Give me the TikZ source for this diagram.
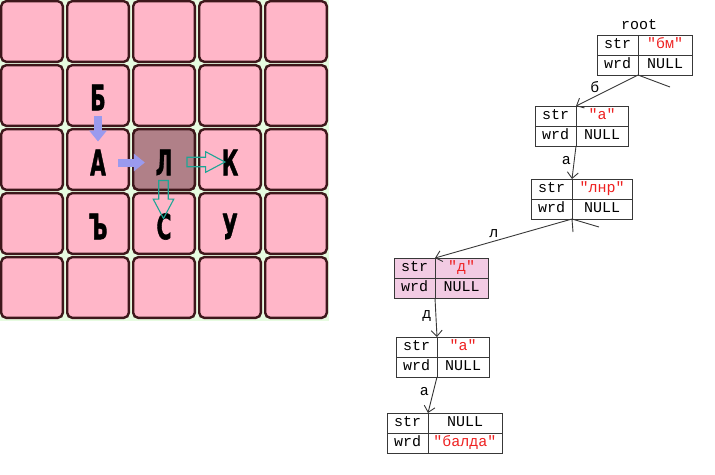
\documentclass[tikz,border=0pt]{standalone}
\usepackage{fontspec}
\usetikzlibrary{positioning,arrows.meta,shapes.arrows}
\newfontfamily\triefont{Liberation Mono}
\newfontface\letterfont{DejaVu Sans Bold}[FakeBold=1.6]
\definecolor{cellpink}{HTML}{FFB6C8}
\definecolor{cellhot}{HTML}{B08088}
\definecolor{cellline}{HTML}{3E171B}
\definecolor{gridbg}{HTML}{E6FBE0}
\definecolor{pushblue}{HTML}{9A9AEE}
\definecolor{hollowteal}{HTML}{1FA595}
\definecolor{valred}{HTML}{EE2020}
\definecolor{triepink}{HTML}{F2CBE3}
\definecolor{linkgray}{HTML}{383838}
\newcommand{\gridletter}[1]{\scalebox{0.58}[1]{#1}}
\newcommand{\quoted}[1]{\textcolor{valred}{"#1"}}
% one trie node: name, top left corner, value width, str, wrd, fill
\newcommand{\trienode}[6]{%
  \node[key, fill=#6, anchor=north west] (#1s) at (#2) {str};
  \node[key, fill=#6, below=0pt of #1s] (#1w) {wrd};
  \node[key, fill=#6, minimum width=#3, right=0pt of #1s] (#1sv) {#4};
  \node[key, fill=#6, minimum width=#3, right=0pt of #1w] (#1wv) {#5};
}
\begin{document}
\begin{tikzpicture}[x=1pt, y=-1pt,
    cell/.style={rectangle, rounded corners=5pt, draw=cellline, line width=2.4pt, fill=cellpink,
                 minimum width=61.6pt, minimum height=60.6pt, inner sep=0pt},
    glyph/.style={inner sep=0pt, font=\letterfont\fontsize{35}{35}\selectfont},
    push/.style={pushblue, line width=8pt, -{Triangle[length=11pt,width=17pt]}},
    hollow/.style={single arrow, draw=hollowteal, line width=1.1pt, minimum height=38pt,
                   single arrow head extend=5.5pt, single arrow tip angle=56,
                   inner xsep=0pt, inner ysep=4.2pt},
    key/.style={draw=linkgray, line width=0.9pt, outer sep=0pt, inner sep=0pt, minimum width=41pt,
                minimum height=20pt, text height=10pt, text depth=3pt, font=\triefont\fontsize{15}{18}\selectfont},
    link/.style={draw=linkgray, line width=0.9pt, -{Straight Barb[length=6pt,width=11pt]}},
    stub/.style={draw=linkgray, line width=0.9pt},
    edgelbl/.style={inner sep=1pt, font=\triefont\fontsize{15}{18}\selectfont}]
  \useasboundingbox (0,0) rectangle (715,474);
  \fill[gridbg] (0,0) rectangle (329,321);

  % board
  \foreach \i in {0,...,4}
    \foreach \j in {0,...,4}
      \node[cell] (c\i\j) at (32+66*\i, 31.5+64*\j) {};
  \node[cell, fill=cellhot] (hot) at (c22) {};

  \node[glyph] (b) at ([yshift=-2pt]c11) {\gridletter{Б}};
  \node[glyph] (a) at ([yshift=-3pt]c12) {\gridletter{А}};
  \node[glyph] (l) at ([yshift=-3pt]c22) {\gridletter{Л}};
  \node[glyph] (k) at ([yshift=-3pt]c32) {\gridletter{К}};
  \node[glyph] (hard) at ([yshift=-3pt]c13) {\gridletter{Ъ}};
  \node[glyph] (s) at ([yshift=-3pt]c23) {\gridletter{С}};
  \node[glyph] (u) at ([yshift=-3pt]c33) {\gridletter{У}};

  \draw[push, shorten <=6pt, shorten >=8pt] (b) -- (a);
  \draw[push, shorten <=12pt, shorten >=10.5pt] (a) -- (l);
  \node[hollow] (lk) at (201.5,162) {};
  \node[hollow, rotate=-90] (ls) at (163.5,195) {};

  % trie
  \node[edgelbl] (rootlbl) at (639,25) {root};
  \trienode{t0}{597,35}{54pt}{\quoted{бм}}{NULL}{white}
  \trienode{t1}{535,106}{52pt}{\quoted{а}}{NULL}{white}
  \trienode{t2}{531,179}{60pt}{\quoted{лнр}}{NULL}{white}
  \trienode{t3}{394,258}{53pt}{\quoted{д}}{NULL}{triepink}
  \trienode{t4}{396,337}{52pt}{\quoted{а}}{NULL}{white}
  \trienode{t5}{387,413}{74pt}{NULL}{\quoted{балда}}{white}

  \coordinate (r1) at (670,87);
  \coordinate (m1) at (573,232);
  \coordinate (m2) at (599,227);

  \draw[link] (t0w.south east) -- node[edgelbl, pos=0.6, above left] (lb0) {б} (t1s.north east);
  \draw[stub] (t0w.south east) -- (r1);
  \draw[link] (t1w.south east) -- node[edgelbl, pos=0.45, left=2pt] (lb1) {а} (t2s.north east);
  \draw[link] (t2w.south east) -- node[edgelbl, pos=0.57, above=2pt] (lb2) {л} (t3s.north east);
  \draw[stub] (t2w.south east) -- (m1);
  \draw[stub] (t2w.south east) -- (m2);
  \draw[link] (t3w.south east) -- node[edgelbl, pos=0.45, left=3pt] (lb3) {д} (t4s.north east);
  \draw[link] (t4w.south east) -- node[edgelbl, pos=0.4, left=3pt] (lb4) {а} (t5s.north east);
\end{tikzpicture}
\end{document}
